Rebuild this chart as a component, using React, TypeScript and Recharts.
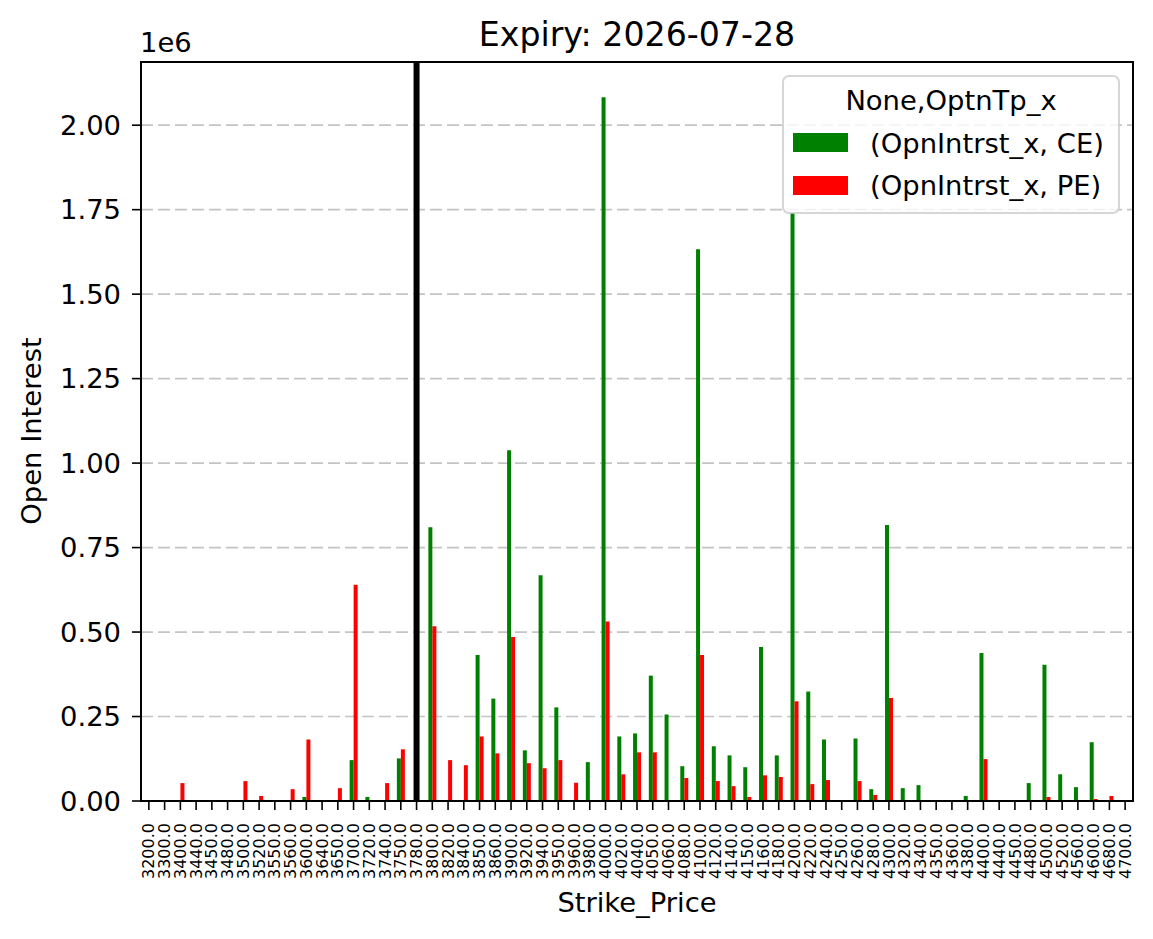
import React from 'react';
import { BarChart, Bar, XAxis, YAxis, CartesianGrid, ReferenceLine } from 'recharts';

const strikes = [
  3200, 3300, 3400, 3440, 3450, 3480, 3500, 3520, 3550, 3560,
  3600, 3640, 3650, 3700, 3720, 3740, 3750, 3780, 3800, 3820,
  3840, 3850, 3860, 3900, 3920, 3940, 3950, 3960, 3980, 4000,
  4020, 4040, 4050, 4060, 4080, 4100, 4120, 4140, 4150, 4160,
  4180, 4200, 4220, 4240, 4250, 4260, 4280, 4300, 4320, 4340,
  4350, 4360, 4380, 4400, 4440, 4450, 4480, 4500, 4520, 4560,
  4600, 4680, 4700,
];

const ceOI = [
  0, 0, 0, 0, 0, 0, 0, 0, 0, 0,
  12000, 0, 0, 121000, 12000, 0, 126000, 0, 810000, 0,
  0, 432000, 303000, 1038000, 150000, 668000, 277000, 0, 115000, 2083000,
  191000, 200000, 371000, 256000, 103000, 1633000, 162000, 135000, 100000, 456000,
  135000, 1740000, 324000, 182000, 3000, 185000, 35000, 817000, 38000, 47000,
  0, 0, 15000, 438000, 0, 0, 53000, 403000, 79000, 41000,
  174000, 0, 0,
];

const peOI = [
  0, 0, 53000, 0, 0, 0, 59000, 15000, 0, 35000,
  182000, 0, 38000, 640000, 0, 53000, 153000, 0, 517000, 121000,
  106000, 191000, 141000, 485000, 112000, 97000, 121000, 54000, 0, 531000,
  79000, 144000, 144000, 0, 68000, 432000, 59000, 44000, 12000, 76000,
  71000, 295000, 50000, 62000, 0, 59000, 18000, 305000, 0, 0,
  0, 0, 0, 124000, 0, 0, 0, 12000, 0, 0,
  6000, 15000, 0,
];

const yTicks = [0, 250000, 500000, 750000, 1000000, 1250000, 1500000, 1750000, 2000000];
const spotStrike = 3780;

const chartTitle = 'Expiry: 2026-07-28';
const legendTitle = 'None,OptnTp_x';
const ceLabel = '(OpnIntrst_x, CE)';
const peLabel = '(OpnIntrst_x, PE)';

const data = strikes.map((s, i) => ({ strike: s, ce: ceOI[i], pe: peOI[i] }));

const FONT = 'DejaVu Sans, Verdana, sans-serif';
const FS = 27.4;

const XTick = (props: any) => {
  const { x, y, payload } = props;
  return (
    <g transform={`translate(${x},${y})`}>
      <text
        transform="rotate(-90)"
        x={-11}
        y={0}
        dy="0.35em"
        textAnchor="end"
        fontSize={16}
        fontFamily={FONT}
        fill="#000"
      >
        {Number(payload.value).toFixed(1)}
      </text>
    </g>
  );
};

export default function App() {
  return (
    <div style={{ position: 'absolute', left: 0, top: 0, width: 1153, height: 939, background: '#fff' }}>
      <BarChart
        width={1153}
        height={939}
        data={data}
        margin={{ top: 62, right: 20, bottom: 38, left: 61 }}
        barCategoryGap="25%"
        barGap={0}
      >
        <CartesianGrid
          vertical={false}
          stroke="#c4c4c4"
          strokeWidth={1.7}
          strokeDasharray="12 5"
        />
        <XAxis
          dataKey="strike"
          type="category"
          interval={0}
          height={100}
          axisLine={false}
          tickSize={9}
          tickLine={{ stroke: '#000', strokeWidth: 1.6 }}
          tick={<XTick />}
        />
        <YAxis
          type="number"
          width={80}
          domain={[0, 2187000]}
          allowDataOverflow
          ticks={yTicks}
          interval={0}
          axisLine={false}
          tickSize={9}
          tickMargin={11}
          tickLine={{ stroke: '#000', strokeWidth: 1.6 }}
          tick={{ fontSize: FS, fill: '#000', fontFamily: FONT }}
          tickFormatter={(v: number) => (v / 1e6).toFixed(2)}
        />
        <Bar dataKey="ce" fill="#008000" isAnimationActive={false} />
        <Bar dataKey="pe" fill="#ff0000" isAnimationActive={false} />
        <ReferenceLine x={spotStrike} stroke="#000" strokeWidth={6} />
      </BarChart>
      <svg
        width={1153}
        height={939}
        style={{ position: 'absolute', left: 0, top: 0, pointerEvents: 'none' }}
      >
        <rect x={141} y={62} width={992} height={739} fill="none" stroke="#000" strokeWidth={2} />
        <text x={637} y={46} textAnchor="middle" fontSize={33.2} fontFamily={FONT} fill="#000">
          {chartTitle}
        </text>
        <text x={140} y={51.5} textAnchor="start" fontSize={FS} fontFamily={FONT} fill="#000">
          1e6
        </text>
        <text
          transform="translate(41,431) rotate(-90)"
          textAnchor="middle"
          fontSize={FS}
          fontFamily={FONT}
          fill="#000"
        >
          Open Interest
        </text>
        <text x={637} y={912} textAnchor="middle" fontSize={FS} fontFamily={FONT} fill="#000">
          Strike_Price
        </text>
        <rect
          x={783}
          y={76}
          width={336}
          height={137}
          rx={6}
          ry={6}
          fill="#fff"
          fillOpacity={0.8}
          stroke="#cccccc"
          strokeOpacity={0.8}
          strokeWidth={2}
        />
        <text x={951} y={110} textAnchor="middle" fontSize={FS} fontFamily={FONT} fill="#000">
          {legendTitle}
        </text>
        <rect x={793} y={133} width={55} height={19} fill="#008000" />
        <text x={870} y={153} fontSize={FS} fontFamily={FONT} fill="#000">
          {ceLabel}
        </text>
        <rect x={793} y={176} width={55} height={19} fill="#ff0000" />
        <text x={870} y={195} fontSize={FS} fontFamily={FONT} fill="#000">
          {peLabel}
        </text>
      </svg>
    </div>
  );
}
